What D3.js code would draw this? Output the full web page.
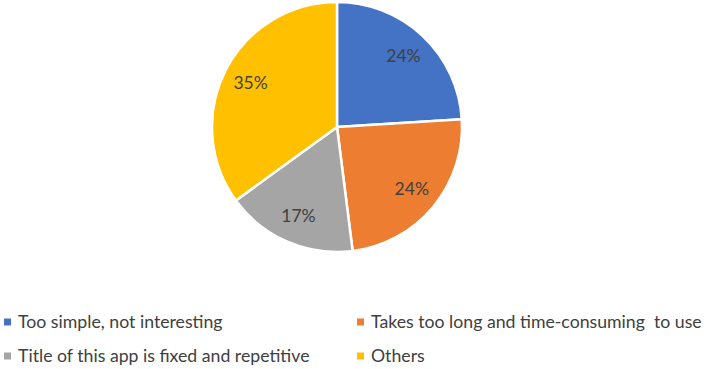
<!DOCTYPE html>
<html lang="en">
<head>
    <meta charset="UTF-8">
    <title>Pie chart</title>
    <script src="https://d3js.org/d3.v7.min.js"></script>
    <style>
        body { margin: 0; background: #fff; }
        text { font-family: Lato, "Open Sans", sans-serif; fill: #404040; }
    </style>
</head>
<body>
    <svg id="chart" width="706" height="369"></svg>

    <script>
        const categories = [
            "Too simple, not interesting",
            "Takes too long and time-consuming\u00a0 to use",
            "Title of this app is fixed and repetitive",
            "Others"
        ];
        const values = [24, 24, 17, 35];
        const labels = ["24%", "24%", "17%", "35%"];
        const colors = ["#4472C4", "#ED7D31", "#A5A5A5", "#FFC000"];

        const data = categories.map((c, i) => ({ name: c, value: values[i], label: labels[i] }));

        const svg = d3.select("#chart");
        const cx = 337, cy = 127, radius = 125;

        const g = svg.append("g").attr("transform", `translate(${cx},${cy})`);

        const color = d3.scaleOrdinal().domain(categories).range(colors);
        const pie = d3.pie().value(d => d.value).sort(null);
        const arc = d3.arc().innerRadius(0).outerRadius(radius);
        const labelArc = d3.arc().innerRadius(97).outerRadius(97);

        const slices = pie(data);

        g.selectAll("path")
            .data(slices)
            .enter()
            .append("path")
            .attr("d", arc)
            .attr("fill", d => color(d.data.name))
            .attr("stroke", "#fff")
            .attr("stroke-width", 2.5)
            .attr("stroke-linejoin", "round");

        // percentage labels
        g.selectAll("text.pct")
            .data(slices)
            .enter()
            .append("text")
            .attr("class", "pct")
            .attr("transform", d => `translate(${labelArc.centroid(d)})`)
            .attr("text-anchor", "middle")
            .attr("dy", "0.35em")
            .style("font-size", "17.5px")
            .text(d => d.data.label);

        // legend, two columns x two rows
        const legendX = [4, 357];
        const legendY = [322, 356];
        const legend = svg.append("g");
        const items = legend.selectAll("g")
            .data(data)
            .enter()
            .append("g")
            .attr("transform", (d, i) => `translate(${legendX[i % 2]},${legendY[Math.floor(i / 2)]})`);

        items.append("rect")
            .attr("x", 0)
            .attr("y", -3.5)
            .attr("width", 7)
            .attr("height", 7)
            .attr("fill", d => color(d.name));

        items.append("text")
            .attr("x", 14)
            .attr("dy", "0.36em")
            .style("font-size", "17.7px")
            .text(d => d.name);
    </script>
</body>
</html>
